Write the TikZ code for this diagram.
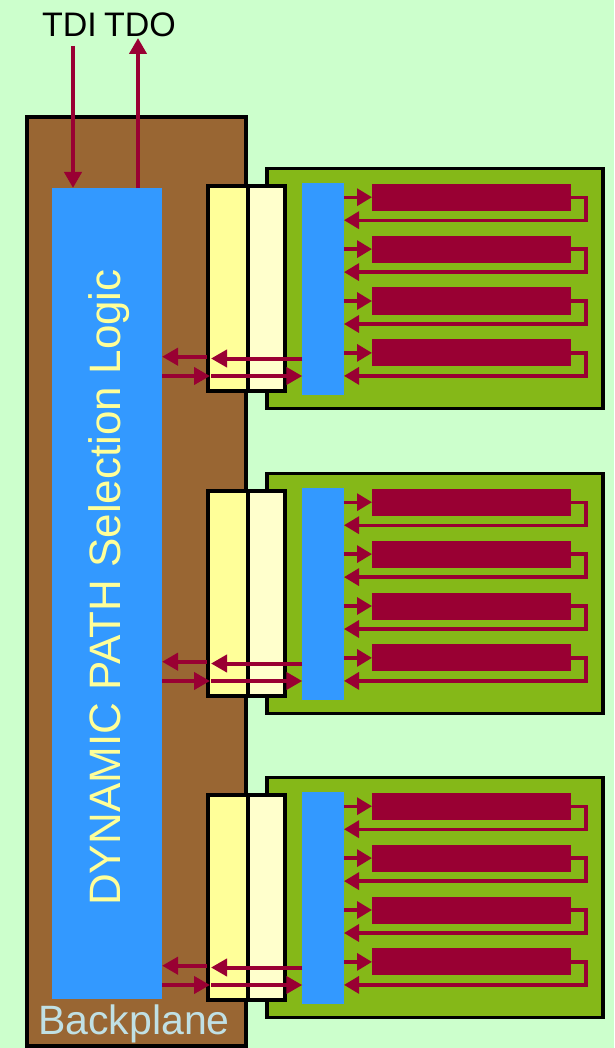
\documentclass[tikz,border=0pt]{standalone}
\usepackage{fontspec}
\setmainfont{Liberation Sans}
\usetikzlibrary{arrows.meta,calc}
\definecolor{bgc}{HTML}{CCFFCC}
\definecolor{bpbrown}{HTML}{996633}
\definecolor{logicblue}{HTML}{3399FF}
\definecolor{ylwA}{HTML}{FFFF99}
\definecolor{ylwB}{HTML}{FFFFCC}
\definecolor{cardgreen}{HTML}{85B818}
\definecolor{sigred}{HTML}{990033}
\definecolor{bptext}{HTML}{C0E0E4}
\begin{document}
\begin{tikzpicture}[x=1pt,y=-1pt,
  box/.style={draw=black,line width=4pt,inner sep=0,outer sep=0,anchor=north west},
  flat/.style={inner sep=0,outer sep=0,anchor=north west},
  sig/.style={draw=sigred,line width=4pt,-{Triangle[length=16pt,width=17pt]}},
  sigthin/.style={draw=sigred,line width=3.3pt,-{Triangle[length=15pt,width=17pt]}},
]
\fill[bgc] (0,0) rectangle (614,1048);
\useasboundingbox (0,0) rectangle (614,1048);

% backplane
\node[box,fill=bpbrown,minimum width=219.5pt,minimum height=928pt] (bp) at (26.5,117.5) {};
\node[flat,fill=logicblue,minimum width=110pt,minimum height=811pt] (logic) at (52,188) {};
\node[rotate=90,anchor=base,inner sep=0,text=ylwA,font=\fontsize{44}{44}\selectfont] (lbl) at (120,587.5) {DYNAMIC PATH Selection Logic};
\node[anchor=base west,inner sep=0,text=bptext,font=\fontsize{41}{41}\selectfont] (bplabel) at (38,1034) {Backplane};

% TDI / TDO
\node[anchor=base,inner sep=0,font=\fontsize{34}{34}\selectfont] (tdi) at (69.5,37) {TDI};
\node[anchor=base,inner sep=0,font=\fontsize{34}{34}\selectfont] (tdo) at (140,37) {TDO};
\coordinate (tdiin) at (73,46);
\coordinate (tdoout) at (138,38);
\draw[sig] (tdiin) -- (tdiin |- logic.north);
\draw[sig] (tdoout |- logic.north) -- (tdoout);

% cards
\foreach \i/\dy in {1/0,2/305,3/609}{
  \begin{scope}[shift={(0,\dy)}]
    \node[box,line width=3.5pt,fill=cardgreen,minimum width=336pt,minimum height=240pt] (card\i) at (267,168.7) {};
    \node[box,fill=ylwA,minimum width=40pt,minimum height=204.5pt] (cl\i) at (208,186) {};
    \node[box,fill=ylwB,minimum width=37.3pt,minimum height=204.5pt] (cr\i) at (248,186) {};
    \node[flat,fill=logicblue,minimum width=41.7pt,minimum height=211.7pt] (strip\i) at (302.3,183.3) {};
    \foreach \j in {1,...,4}{
      \node[flat,fill=sigred,minimum width=199pt,minimum height=27pt] (bar\i\j) at (372,{183.7+(\j-1)*51.9}) {};
      \draw[sigthin] (strip\i.east |- bar\i\j.west) -- (bar\i\j.west);
      \coordinate (ret\i\j) at ($(bar\i\j.east)+(15,23)$);
      \draw[sigthin] (bar\i\j.east) -| (ret\i\j) -- (ret\i\j -| strip\i.east);
    }
    \coordinate (up\i) at (0,358.5);
    \coordinate (upb\i) at (0,356.7);
    \coordinate (dn\i) at (0,376);
    \draw[sig] (strip\i.west |- up\i) -- ([xshift=3pt]cl\i.west |- up\i);
    \draw[sig] ([xshift=-1.5pt]cl\i.west |- upb\i) -- (logic.east |- upb\i);
    \draw[sig] (logic.east |- dn\i) -- ([xshift=2pt]cl\i.west |- dn\i);
    \draw[sig] ([xshift=3pt]cl\i.west |- dn\i) -- (strip\i.west |- dn\i);
  \end{scope}
}
\end{tikzpicture}
\end{document}
